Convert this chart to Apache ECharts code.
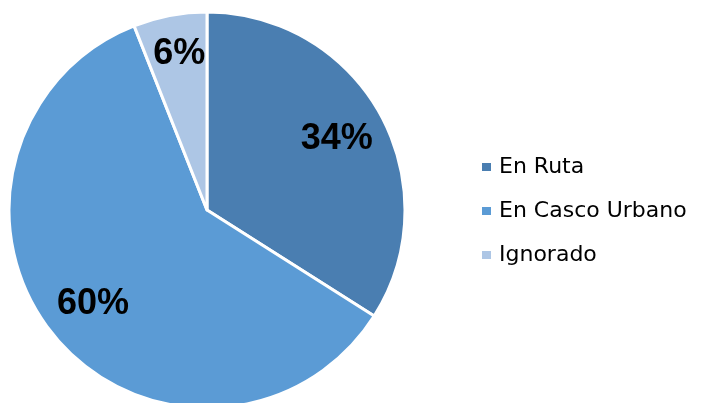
<!DOCTYPE html>
<html>
<head>
<meta charset="utf-8">
<script src="https://cdn.jsdelivr.net/npm/echarts@6/dist/echarts.min.js"></script>
<style>
  html, body { margin: 0; padding: 0; background: #fff; }
  #chart { width: 706px; height: 403px; }
</style>
</head>
<body>
<div id="chart"></div>
<script>
const categories = ['En Ruta', 'En Casco Urbano', 'Ignorado'];
const values = [34, 60, 6];
const colors = ['#4A7EB1', '#5B9BD5', '#ADC6E5'];

const pieData = categories.map((name, i) => ({
  name: name,
  value: values[i],
  itemStyle: { color: colors[i] }
}));

const chart = echarts.init(document.getElementById('chart'));
const option = {
  animation: false,
  legend: {
    orient: 'vertical',
    left: 477,
    top: 151,
    icon: 'rect',
    itemWidth: 9,
    itemHeight: 8,
    itemGap: 22,
    data: categories,
    itemStyle: { borderWidth: 0 },
    textStyle: {
      fontFamily: 'DejaVu Sans',
      fontSize: 22,
      lineHeight: 22,
      padding: [0, 0, 0, 3],
      color: '#000'
    }
  },
  series: [
    {
      // the pie itself
      type: 'pie',
      center: [207, 210],
      radius: 198,
      startAngle: 90,
      clockwise: true,
      silent: true,
      itemStyle: { borderColor: '#fff', borderWidth: 3 },
      label: { show: false },
      labelLine: { show: false },
      data: pieData
    },
    {
      // transparent ring, only to place the % labels further out
      type: 'pie',
      center: [207, 210],
      radius: [92, 198],
      startAngle: 90,
      clockwise: true,
      silent: true,
      itemStyle: { color: 'rgba(0,0,0,0)', borderWidth: 0 },
      label: {
        show: true,
        position: 'inside',
        formatter: '{c}%',
        fontFamily: 'Liberation Sans',
        fontWeight: 'bold',
        fontSize: 36,
        color: '#000'
      },
      labelLine: { show: false },
      // small slice label sits closer to the rim
      labelLayout: function (params) {
        return params.dataIndex === 2 ? { dy: -11 } : {};
      },
      data: categories.map((name, i) => ({ name: name, value: values[i] }))
    }
  ]
};
chart.setOption(option);
</script>
</body>
</html>
